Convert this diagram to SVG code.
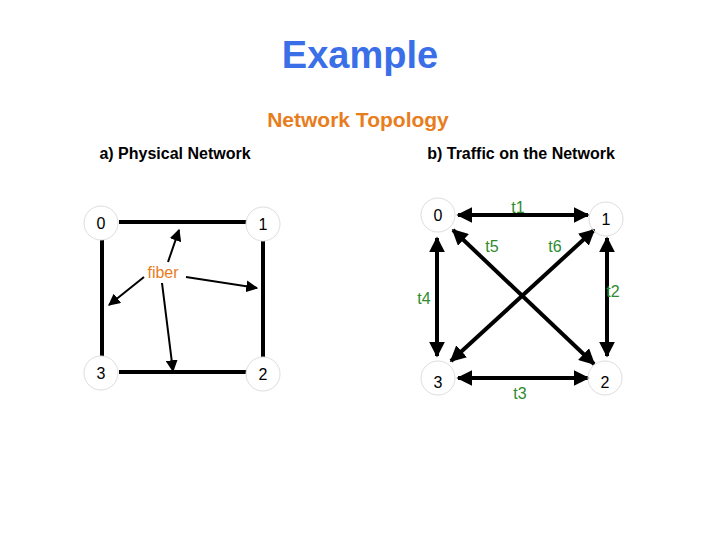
<svg xmlns="http://www.w3.org/2000/svg" width="720" height="540" viewBox="0 0 720 540">
<defs>
<marker id="a" viewBox="0 0 10 10" refX="9" refY="5" markerWidth="4" markerHeight="4" orient="auto-start-reverse"><path d="M0,0 L10,5 L0,10 z" fill="#000"/></marker>
<marker id="s" viewBox="0 0 10 10" refX="9" refY="5" markerWidth="6" markerHeight="6" orient="auto"><path d="M0,0 L10,5 L0,10 z" fill="#000"/></marker>
<style>
.n{fill:#fff;stroke:#ddd;stroke-width:1}
.t{font-family:"Liberation Sans",Arial,sans-serif;font-size:16px;text-anchor:middle}
.h{font-family:"Liberation Sans",Arial,sans-serif;font-weight:bold;text-anchor:middle}
.g{fill:#2e8b2e;font-family:"Liberation Sans",Arial,sans-serif;font-size:16px;text-anchor:middle}
.e{stroke:#000;stroke-width:4;fill:none}
.d{stroke:#000;stroke-width:4;fill:none;marker-start:url(#a);marker-end:url(#a)}
.f{stroke:#000;stroke-width:2;marker-end:url(#s)}
</style>
</defs>
<text class="h" x="360" y="68" font-size="38" fill="#3a6fe8">Example</text>
<text class="h" x="358" y="127" font-size="21" fill="#e87d1e">Network Topology</text>
<text class="h" x="175" y="159" font-size="16" fill="#000">a) Physical Network</text>
<text class="h" x="521" y="159" font-size="16" fill="#000">b) Traffic on the Network</text>
<g id="connectors">
<path class="e" d="M119,222H247M102,240V357M263,241V357M119,372H247"/>
<line class="f" x1="168" y1="262" x2="179" y2="230"/>
<line class="f" x1="144" y1="277" x2="109" y2="305"/>
<line class="f" x1="186" y1="277" x2="257" y2="288"/>
<line class="f" x1="162" y1="283" x2="173" y2="371"/>
<line class="d" x1="458" y1="215" x2="588" y2="215"/>
<line class="d" x1="437" y1="238" x2="437" y2="356"/>
<line class="d" x1="607" y1="238" x2="607" y2="356"/>
<line class="d" x1="458" y1="378" x2="588" y2="378"/>
<line class="d" x1="453" y1="230" x2="594" y2="364"/>
<line class="d" x1="594" y1="230" x2="451" y2="361"/>
</g>
<text class="t" x="163" y="278" fill="#e87d1e">fiber</text>
<text class="g" x="518" y="213">t1</text>
<text class="g" x="492" y="252">t5</text>
<text class="g" x="555" y="252">t6</text>
<text class="g" x="424" y="304">t4</text>
<text class="g" x="613" y="297">t2</text>
<text class="g" x="520" y="399">t3</text>
<g id="L0"><circle class="n" cx="101" cy="223" r="17"/><text class="t" x="101" y="229">0</text></g>
<g id="L1"><circle class="n" cx="263" cy="224" r="17"/><text class="t" x="263" y="230">1</text></g>
<g id="L3"><circle class="n" cx="101" cy="373" r="17"/><text class="t" x="101" y="379">3</text></g>
<g id="L2"><circle class="n" cx="263" cy="374" r="17"/><text class="t" x="263" y="380">2</text></g>
<g id="R0"><circle class="n" cx="438" cy="215" r="17" fill-opacity="0"/><text class="t" x="438" y="221">0</text></g>
<g id="R1"><circle class="n" cx="606" cy="219" r="17" fill-opacity="0"/><text class="t" x="606" y="225">1</text></g>
<g id="R3"><circle class="n" cx="438" cy="378" r="17" fill-opacity="0"/><text class="t" x="438" y="388">3</text></g>
<g id="R2"><circle class="n" cx="605" cy="378" r="17" fill-opacity="0"/><text class="t" x="605" y="388">2</text></g>
</svg>
